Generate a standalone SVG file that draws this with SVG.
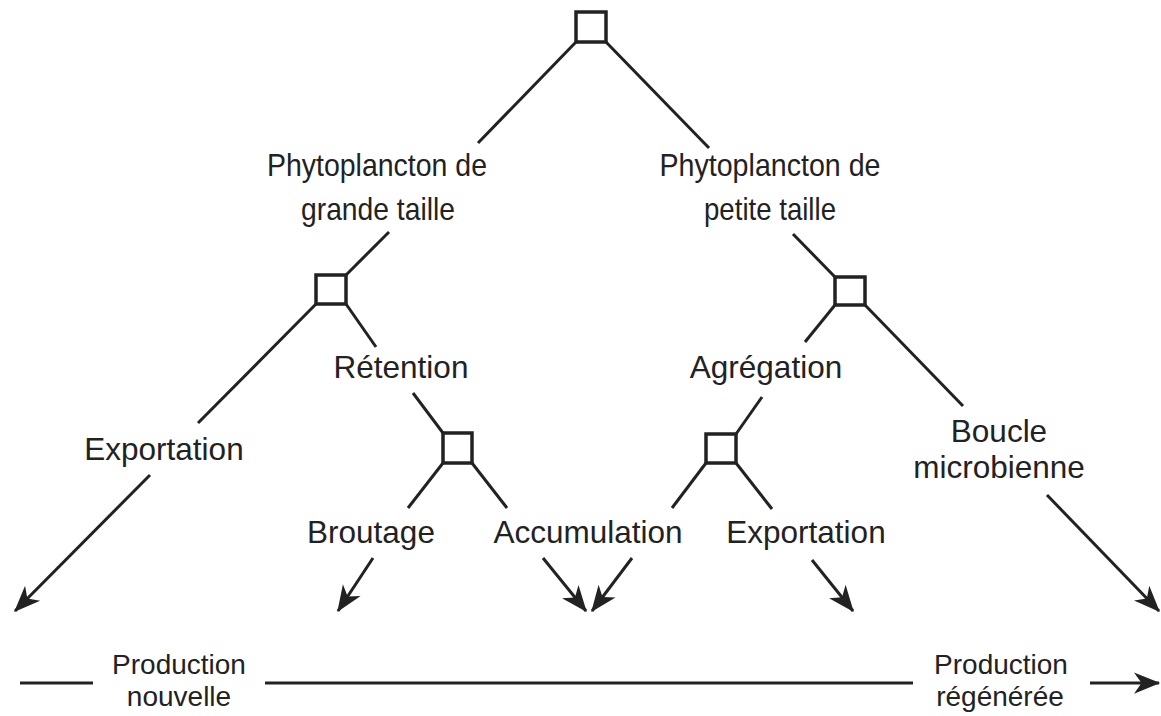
<svg xmlns="http://www.w3.org/2000/svg" width="1161" height="716" viewBox="0 0 1161 716">
<style>
.t{font-family:"Liberation Sans",Arial,Helvetica,sans-serif;font-size:31.5px;fill:#222;text-anchor:middle}
.s{font-size:28px}
.p{font-size:30.5px}
.box{fill:#fff;stroke:#222;stroke-width:3.5}
.c{stroke:#222;stroke-width:3;fill:none}
.a{marker-end:url(#ah)}
</style>
<defs>
<marker id="ah" markerUnits="userSpaceOnUse" markerWidth="30" markerHeight="30" viewBox="-22 -11 24 22" refX="0" refY="0" orient="auto">
<path d="M1,0 L-20,-8.5 L-14,0 L-20,8.5 Z" fill="#222"/>
</marker>
</defs>
<rect width="1161" height="716" fill="#fff"/>
<g id="connectors">
<line class="c" x1="576" y1="42" x2="478" y2="143"/>
<line class="c" x1="606" y1="42" x2="709" y2="148"/>
<line class="c" x1="346" y1="275" x2="389" y2="232"/>
<line class="c" x1="316" y1="304" x2="198" y2="423"/>
<line class="c a" x1="150" y1="475" x2="15" y2="611"/>
<line class="c" x1="346" y1="304" x2="376" y2="347"/>
<line class="c" x1="443" y1="433" x2="413" y2="393"/>
<line class="c" x1="443" y1="463" x2="408" y2="508"/>
<line class="c a" x1="373" y1="558" x2="338" y2="611"/>
<line class="c" x1="472" y1="463" x2="507" y2="508"/>
<line class="c a" x1="543" y1="558" x2="586" y2="611"/>
<line class="c" x1="835" y1="277" x2="793" y2="234"/>
<line class="c" x1="835" y1="305" x2="805" y2="342"/>
<line class="c" x1="736" y1="434" x2="762" y2="397"/>
<line class="c" x1="706" y1="463" x2="672" y2="508"/>
<line class="c a" x1="632" y1="558" x2="592" y2="611"/>
<line class="c" x1="736" y1="463" x2="772" y2="509"/>
<line class="c a" x1="812" y1="560" x2="853" y2="611"/>
<line class="c" x1="865" y1="305" x2="963" y2="406"/>
<line class="c a" x1="1047" y1="495" x2="1159" y2="611"/>
<line class="c" x1="20" y1="683" x2="93" y2="683"/>
<line class="c" x1="265" y1="683" x2="913" y2="683"/>
<line class="c a" x1="1090" y1="683" x2="1159" y2="683"/>
</g>
<g id="root"><rect class="box" x="576" y="12" width="30" height="30"/></g>
<g id="phyto-grande"><text class="t p" x="377" y="176" textLength="220" lengthAdjust="spacingAndGlyphs">Phytoplancton de</text><text class="t p" x="378" y="220" textLength="154" lengthAdjust="spacingAndGlyphs">grande taille</text></g>
<g id="phyto-petite"><text class="t p" x="770" y="176" textLength="221" lengthAdjust="spacingAndGlyphs">Phytoplancton de</text><text class="t p" x="770" y="220" textLength="132" lengthAdjust="spacingAndGlyphs">petite taille</text></g>
<g id="node-left"><rect class="box" x="316" y="275" width="30" height="29"/></g>
<g id="node-right"><rect class="box" x="835" y="277" width="30" height="28"/></g>
<g id="retention"><text class="t" x="401" y="378">Rétention</text></g>
<g id="agregation"><text class="t" x="766" y="378">Agrégation</text></g>
<g id="node-ret"><rect class="box" x="443" y="433" width="29" height="30"/></g>
<g id="node-agr"><rect class="box" x="706" y="434" width="30" height="29"/></g>
<g id="exportation-left"><text class="t" x="164" y="460">Exportation</text></g>
<g id="boucle"><text class="t" x="999" y="442">Boucle</text><text class="t" x="999" y="478">microbienne</text></g>
<g id="broutage"><text class="t" x="371" y="543">Broutage</text></g>
<g id="accumulation"><text class="t" x="588" y="543">Accumulation</text></g>
<g id="exportation-right"><text class="t" x="806" y="543">Exportation</text></g>
<g id="prod-nouvelle"><text class="t s" x="179" y="674">Production</text><text class="t s" x="179" y="706">nouvelle</text></g>
<g id="prod-regeneree"><text class="t s" x="1001" y="674">Production</text><text class="t s" x="1000" y="706">régénérée</text></g>
</svg>
